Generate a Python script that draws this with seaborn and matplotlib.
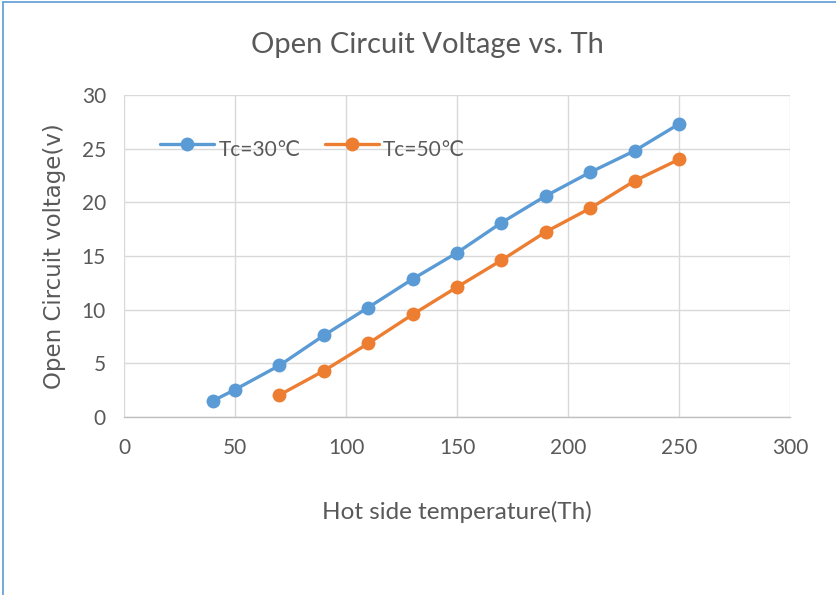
import matplotlib
matplotlib.use("Agg")
import matplotlib.pyplot as plt
import seaborn as sns
import pandas as pd
from matplotlib.lines import Line2D

th_30 = [40, 50, 70, 90, 110, 130, 150, 170, 190, 210, 230, 250]
v_30 = [1.5, 2.55, 4.8, 7.6, 10.2, 12.85, 15.3, 18.1, 20.6, 22.8, 24.8, 27.3]
th_50 = [70, 90, 110, 130, 150, 170, 190, 210, 230, 250]
v_50 = [2.05, 4.3, 6.85, 9.55, 12.1, 14.6, 17.25, 19.45, 22.0, 24.0]
series_names = ["Tc=30\u2103", "Tc=50\u2103"]
x_ticks = [0, 50, 100, 150, 200, 250, 300]
y_ticks = [0, 5, 10, 15, 20, 25, 30]

df = pd.DataFrame({
    "Th": th_30 + th_50,
    "V": v_30 + v_50,
    "series": [series_names[0]] * len(th_30) + [series_names[1]] * len(th_50),
})

sns.set_style("white")
plt.rcParams["font.family"] = ["Lato", "DejaVu Sans"]

W, H = 836, 595
fig = plt.figure(figsize=(W / 100, H / 100), dpi=100)
ax = fig.add_axes([124 / W, 1 - 417 / H, (790 - 124) / W, (417 - 95) / H])

colors = ["#5B9BD5", "#ED7D31"]
sns.lineplot(data=df, x="Th", y="V", hue="series", palette=colors, marker="o",
             markersize=10, markeredgewidth=0, linewidth=2.4, ax=ax, legend=False)

ax.set_xlim(0, 300)
ax.set_ylim(0, 30)
ax.set_xticks(x_ticks)
ax.set_yticks(y_ticks)
ax.grid(True, color="#D9D9D9", linewidth=1.0)
ax.set_axisbelow(True)
for s in ["top", "right", "left"]:
    ax.spines[s].set_visible(False)
ax.spines["bottom"].set_color("#BFBFBF")
ax.spines["bottom"].set_linewidth(1.0)
ax.tick_params(axis="both", length=0, labelsize=15, labelcolor="#595959")
ax.tick_params(axis="x", pad=15)
ax.tick_params(axis="y", pad=13)

ax.set_xlabel("Hot side temperature(Th)", fontsize=17.5, color="#595959", labelpad=31)
ax.set_ylabel("Open Circuit voltage(v)", fontsize=16.5, color="#595959", labelpad=11,
              family=["DejaVu Sans"])

fig.text(427 / W, 1 - 45 / H, "Open Circuit Voltage vs. Th", fontsize=21,
         color="#595959", ha="center", va="center")

handles = [Line2D([], [], color=c, marker="o", markersize=10, markeredgewidth=0,
                  linewidth=2.4) for c in colors]
leg = ax.legend(handles, series_names, loc="center left", ncol=2,
                bbox_to_anchor=(0.042, 0.845), frameon=False, fontsize=15,
                handlelength=2.6, handletextpad=0.2, columnspacing=1.15,
                borderaxespad=0)
for t in leg.get_texts():
    t.set_color("#595959")
    t.set_y(-5)

# outer border (top and left visible in reference)
fig.add_artist(Line2D([3 / W, 3 / W], [0, 1 - 2 / H], color="#5B9BD5", linewidth=1.2))
fig.add_artist(Line2D([3 / W, 1], [1 - 2 / H, 1 - 2 / H], color="#5B9BD5", linewidth=1.2))

fig.savefig("out.png", dpi=100, facecolor="white")
